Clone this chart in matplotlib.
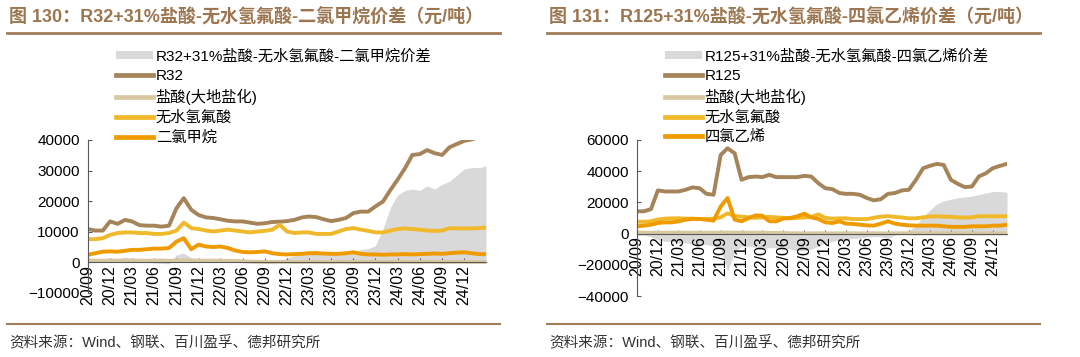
import numpy as np
import pandas as pd
import matplotlib
matplotlib.use("Agg")
import matplotlib.pyplot as plt
import matplotlib.dates as mdates
from matplotlib.lines import Line2D
from matplotlib.patches import Patch

plt.rcParams['font.family'] = ['Liberation Sans', 'Noto Sans CJK SC', 'DejaVu Sans']

# monthly readings, 2020/09 .. 2025/03 (left) and .. 2025/02 (right)
months_l = pd.date_range('2020-09-01', periods=55, freq='MS')
months_r = pd.date_range('2020-09-01', periods=54, freq='MS')
tick_months = pd.date_range('2020-09-01', '2024-12-01', freq='3MS')

r32 = [10900, 10400, 10400, 13400, 12600, 13900, 13400, 12200, 12000, 12000,
       11700, 12000, 17700, 21000, 17200, 15500, 14700, 14500, 14100, 13600,
       13400, 13400, 13000, 12600, 12800, 13200, 13300, 13500, 13900, 14700,
       15000, 14800, 14100, 13500, 13900, 14500, 16100, 16600, 16600, 18300,
       19900, 23700, 27000, 30800, 35100, 35400, 36700, 35700, 35100, 37600,
       38700, 39700, 40200, 41000, 41500]
hcl = [600, 600, 550, 600, 600, 550, 600, 600, 550, 600,
       600, 550, 600, 650, 600, 600, 550, 600, 550, 500,
       450, 400, 250, 200, 150, 150, 200, 200, 150, 150,
       200, 200, 150, 150, 200, 200, 150, 150, 200, 200,
       150, 150, 200, 200, 150, 150, 200, 200, 150, 150,
       200, 200, 150, 150, 150]
hf = [7600, 7600, 7900, 9000, 9600, 9800, 9800, 9600, 9600, 9300,
      9300, 9600, 10400, 13000, 11200, 10900, 10400, 10100, 10400, 10700,
      10400, 10100, 9800, 10100, 10300, 10700, 12300, 10100, 9600, 9800,
      9800, 9300, 9300, 9300, 10100, 10900, 11200, 10700, 10300, 9800,
      9800, 10400, 10900, 11100, 10900, 10700, 10400, 10300, 10400, 11200,
      11100, 11100, 11100, 11200, 11400]
dcm = [2500, 3000, 3500, 3600, 3500, 3800, 4100, 4100, 4300, 4500,
       4500, 4700, 6800, 7900, 4300, 5800, 5200, 5000, 5200, 4700,
       3900, 3400, 3300, 3400, 3600, 3000, 2700, 2600, 2700, 2800,
       3000, 3000, 2900, 2800, 2800, 3000, 3300, 2800, 2600, 2600,
       2500, 2600, 2600, 2700, 2600, 2700, 2800, 2900, 2800, 3000,
       3200, 3300, 3000, 2700, 2700]
spread_l = [500, 300, 200, 1500, 1000, 1800, 1000, 300, 0, -200,
            -300, -500, 2500, 3000, 1500, 500, 800, 1000, 600, 500,
            800, 1000, 500, 200, 300, 500, 200, 1500, 2200, 3000,
            3800, 4000, 3500, 3200, 3000, 3000, 3500, 4200, 4500, 5500,
            11000, 18000, 22000, 23500, 24000, 23500, 25000, 24000, 25500, 26500,
            28500, 30500, 31000, 31000, 31500]

r125 = [14300, 14300, 15700, 27700, 27000, 27000, 27000, 28100, 29600, 29100,
        25500, 24900, 50400, 54700, 51500, 34500, 36200, 36600, 36200, 37700,
        36200, 36200, 36200, 36200, 37000, 36600, 32300, 29100, 28500, 26000,
        25500, 25500, 24900, 22800, 21300, 22100, 25500, 26000, 27700, 28100,
        34500, 41900, 43400, 44700, 44000, 34500, 31900, 29800, 30200, 36600,
        38700, 41900, 43400, 44700]
pce = [4700, 5100, 5700, 6800, 7200, 7200, 7900, 8900, 9400, 9400,
       8900, 8300, 17400, 22800, 8900, 7900, 10000, 11700, 11500, 7900,
       7900, 9600, 10000, 11100, 12800, 10400, 9400, 7200, 6800, 7900,
       6400, 6200, 5700, 5300, 5100, 6400, 7900, 6400, 5700, 5300,
       5100, 5100, 5100, 5100, 4700, 4300, 4300, 4300, 4700, 4700,
       4700, 5100, 5100, 5700]
spread_r = [-1000, -1000, -2000, -4000, -5000, -5000, -6000, -6000, -7000, -7000,
            -7000, -8000, -10000, -24000, -12000, -8000, -8000, -9000, -10000, -9000,
            -9000, -9000, -10000, -11000, -11000, -10000, -8000, -6000, -5000, -4000,
            -4000, -3000, -3000, -2000, -2000, -2000, -3000, -1000, 500, 2000,
            5000, 11000, 15000, 19000, 21000, 22000, 23000, 23500, 24000, 25000,
            26000, 27000, 27000, 26500]

C_GRAY = '#d9d9d9'
C_MAIN = '#a5845a'
C_HCL = '#d8c8a0'
C_HF = '#f0b92a'
C_DCM = '#ef9b00'
C_TITLE = '#9c7650'

W, H = 1080, 357
fig = plt.figure(figsize=(W / 100, H / 100), dpi=100)


def fx(px):
    return px / W


def fy(py):
    return 1 - py / H


def panel(x0, x1, y0, y1, dates, spread, main, hcl_, hf_, other,
          labels, ylim, yticks):
    ax = fig.add_axes([fx(x0), fy(y1), fx(x1 - x0), fy(y0) - fy(y1)])
    ax.fill_between(dates, 0, spread, color=C_GRAY, lw=0)
    ax.plot(dates, main, color=C_MAIN, lw=2.8)
    ax.plot(dates, hcl_, color=C_HCL, lw=2.8)
    ax.plot(dates, hf_, color=C_HF, lw=2.8)
    ax.plot(dates, other, color=C_DCM, lw=2.8)
    ax.set_xlim(dates[0], dates[-1])
    ax.set_ylim(*ylim)
    ax.set_yticks(yticks)
    ax.set_xticks(tick_months)
    ax.spines['top'].set_visible(False)
    ax.spines['right'].set_visible(False)
    ax.spines['bottom'].set_position(('data', 0))
    for s in ('left', 'bottom'):
        ax.spines[s].set_color('#595959')
        ax.spines[s].set_linewidth(0.8)
    ax.xaxis.set_major_formatter(mdates.DateFormatter('%y/%m'))
    ax.tick_params(axis='x', direction='in', length=3, color='#595959',
                   labelsize=11.5, rotation=90, pad=2)
    ax.tick_params(axis='y', direction='in', length=3, color='#595959',
                   labelsize=11, pad=6)
    ax.patch.set_alpha(0)

    handles = [Patch(facecolor=C_GRAY, edgecolor='none'),
               Line2D([], [], color=C_MAIN, lw=3.4),
               Line2D([], [], color=C_HCL, lw=3.4),
               Line2D([], [], color=C_HF, lw=3.4),
               Line2D([], [], color=C_DCM, lw=3.4)]
    fig.legend(handles, labels, loc='upper left',
               bbox_to_anchor=(fx(x0 + 28), fy(49)), frameon=False,
               fontsize=11, handlelength=2.4, handleheight=0.45,
               handletextpad=0.2, labelspacing=0.36, borderpad=0,
               borderaxespad=0)
    return ax


panel(88, 486, 140, 293, months_l, spread_l, r32, hcl, hf, dcm,
      ['R32+31%盐酸-无水氢氟酸-二氯甲烷价差', 'R32', '盐酸(大地盐化)',
       '无水氢氟酸', '二氯甲烷'],
      (-10000, 40000), np.arange(-10000, 40001, 10000))

panel(637, 1007, 140, 296, months_r, spread_r, r125, hcl[:54], hf[:54], pce,
      ['R125+31%盐酸-无水氢氟酸-四氯乙烯价差', 'R125', '盐酸(大地盐化)',
       '无水氢氟酸', '四氯乙烯'],
      (-40000, 60000), np.arange(-40000, 60001, 20000))

# titles, rules and source notes
for xl, xr, title in [(7, 500, '图 130：R32+31%盐酸-无水氢氟酸-二氯甲烷价差（元/吨）'),
                      (547, 1040, '图 131：R125+31%盐酸-无水氢氟酸-四氯乙烯价差（元/吨）')]:
    fig.text(fx(xl + 2), fy(16), title, fontsize=13, fontweight='bold',
             color=C_TITLE, va='center', ha='left')
    fig.add_artist(Line2D([fx(xl), fx(xr)], [fy(33), fy(33)],
                          color='#a07d5a', lw=2))
    fig.add_artist(Line2D([fx(xl), fx(xr)], [fy(324), fy(324)],
                          color='#a07d5a', lw=1.5))
    fig.text(fx(xl + 2), fy(343), '资料来源：Wind、钢联、百川盈孚、德邦研究所',
             fontsize=10.5, color='#333333', va='center', ha='left')

fig.savefig('out.png', dpi=100)
